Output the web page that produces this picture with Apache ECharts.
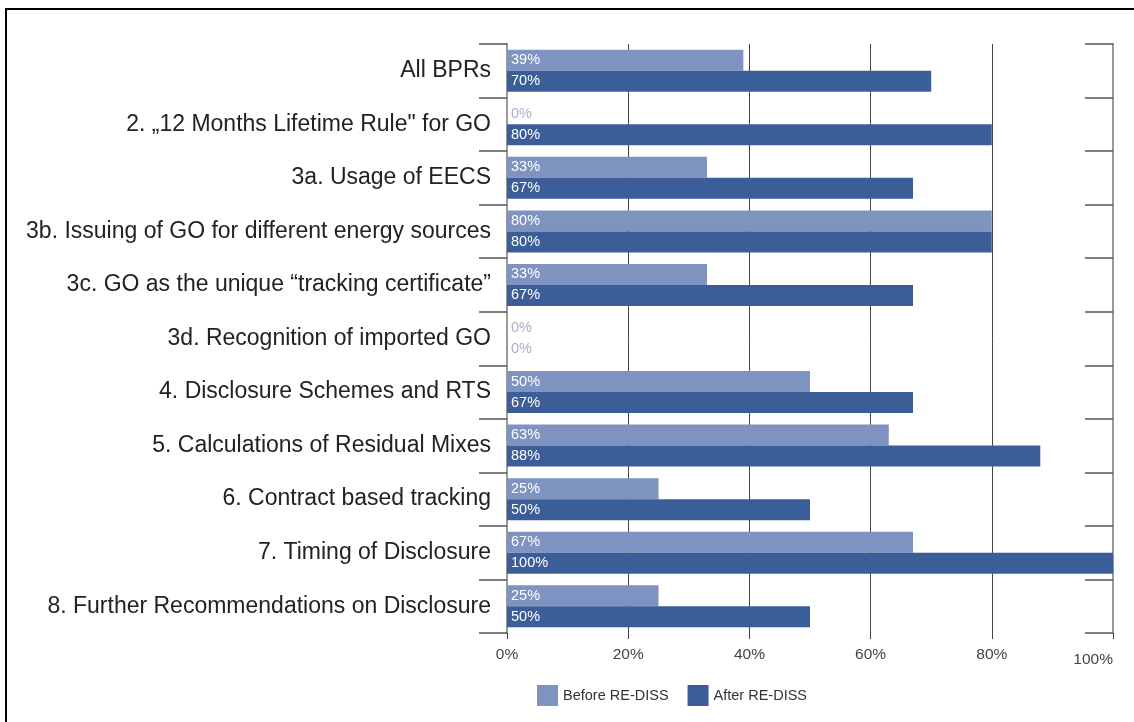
<!DOCTYPE html>
<html>
<head>
<meta charset="utf-8">
<script src="https://cdn.jsdelivr.net/npm/echarts@6/dist/echarts.min.js"></script>
<style>
html,body{margin:0;padding:0;background:#fff;}
#c{width:1134px;height:722px;}
</style>
</head>
<body>
<div id="c"></div>
<script>
var categories = [
  'All BPRs',
  '2. \u201E12 Months Lifetime Rule" for GO',
  '3a. Usage of EECS',
  '3b. Issuing of GO for different energy sources',
  '3c. GO as the unique \u201Ctracking certificate\u201D',
  '3d. Recognition of imported GO',
  '4. Disclosure Schemes and RTS',
  '5. Calculations of Residual Mixes',
  '6. Contract based tracking',
  '7. Timing of Disclosure',
  '8. Further Recommendations on Disclosure'
];
var beforeValues = [39, 0, 33, 80, 33, 0, 50, 63, 25, 67, 25];
var afterValues = [70, 80, 67, 80, 67, 0, 67, 88, 50, 100, 50];
var xTicks = [0, 20, 40, 60, 80, 100];

function toItems(arr) {
  return arr.map(function (v) {
    return { value: v, label: { color: v === 0 ? '#a9b0cc' : '#ffffff' } };
  });
}

var FONT = 'Liberation Sans, Arial, sans-serif';
var chart = echarts.init(document.getElementById('c'), null, { renderer: 'canvas' });
var labelCfg = {
  show: true,
  position: 'insideLeft',
  distance: 4,
  formatter: '{c}%',
  fontFamily: FONT,
  fontSize: 14.5
};
chart.setOption({
  animation: false,
  backgroundColor: '#ffffff',
  graphic: [{
    type: 'rect',
    shape: { x: 6, y: 9, width: 1400, height: 900 },
    style: { fill: 'none', stroke: '#000', lineWidth: 2 },
    silent: true
  }],
  grid: { left: 507, top: 44, width: 606, height: 589 },
  legend: {
    left: 532, top: 680,
    itemWidth: 21, itemHeight: 21, itemGap: 19,
    icon: 'rect',
    textStyle: { fontFamily: FONT, fontSize: 14.5, color: '#333' },
    data: ['Before RE-DISS', 'After RE-DISS']
  },
  xAxis: {
    type: 'value', min: xTicks[0], max: xTicks[xTicks.length - 1], interval: 20,
    axisLine: { show: false },
    axisTick: { show: true, length: 6, lineStyle: { color: '#444' } },
    splitLine: { show: true, lineStyle: { color: '#444', width: 1 } },
    axisLabel: {
      formatter: function (v) { return v === 100 ? '{b|' + v + '%}' : v + '%'; },
      margin: 14, alignMaxLabel: 'right',
      fontFamily: FONT, fontSize: 15.5, color: '#444',
      rich: { b: { fontFamily: FONT, fontSize: 15.5, color: '#444', padding: [5, 0, 0, 0] } }
    }
  },
  yAxis: [{
    type: 'category', data: categories, inverse: true, position: 'left',
    axisLine: { show: true, lineStyle: { color: '#999', width: 2 } },
    axisTick: { show: true, length: 28, lineStyle: { color: '#555', width: 1.5 } },
    axisLabel: {
      margin: 16, fontFamily: FONT, fontSize: 23, color: '#222'
    }
  }, {
    type: 'category', data: categories, inverse: true, position: 'right',
    axisLine: { show: true, lineStyle: { color: '#999', width: 2 } },
    axisTick: { show: true, inside: true, length: 28, lineStyle: { color: '#555', width: 1.5 } },
    axisLabel: { show: false }
  }],
  series: [{
    name: 'Before RE-DISS', type: 'bar', yAxisIndex: 0,
    data: toItems(beforeValues),
    barWidth: 21, barGap: '0%',
    itemStyle: { color: '#7f93c1' },
    label: labelCfg
  }, {
    name: 'After RE-DISS', type: 'bar', yAxisIndex: 0,
    data: toItems(afterValues),
    barWidth: 21, barGap: '0%',
    itemStyle: { color: '#3b5d98' },
    label: labelCfg
  }]
});
</script>
</body>
</html>
